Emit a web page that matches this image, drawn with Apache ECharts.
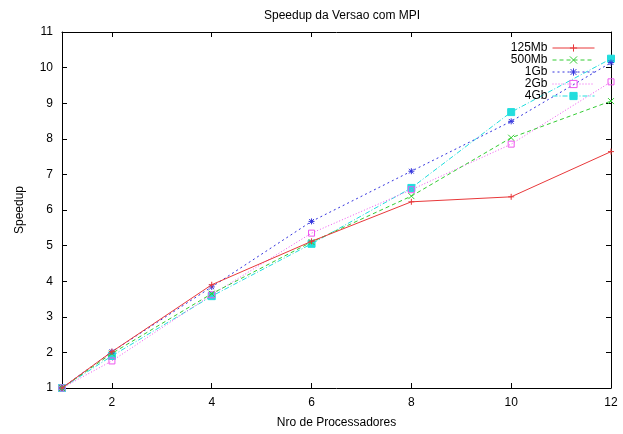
<!DOCTYPE html>
<html>
<head>
<meta charset="utf-8">
<script src="https://cdn.jsdelivr.net/npm/echarts@6/dist/echarts.min.js"></script>
<style>html,body{margin:0;padding:0;background:#fff}#c{width:623px;height:434px}</style>
</head>
<body>
<div id="c"></div>
<script>
var procs = [1, 2, 4, 6, 8, 10, 12];
var xTicks = [2, 4, 6, 8, 10, 12];
var seriesNames = ['125Mb', '500Mb', '1Gb', '2Gb', '4Gb'];
var s125 = [1, 2.02, 3.9, 5.12, 6.23, 6.37, 7.64];
var s500 = [1, 1.97, 3.65, 5.1, 6.39, 8.03, 9.06];
var s1g  = [1, 2.02, 3.84, 5.68, 7.09, 8.49, 10.14];
var s2g  = [1, 1.76, 3.62, 5.35, 6.57, 7.85, 9.6];
var s4g  = [1, 1.9, 3.58, 5.05, 6.62, 8.75, 10.25];

var values = [s125, s500, s1g, s2g, s4g];
var colors = ['#e8383a', '#33cc33', '#3333dd', '#ee55ee', '#22dddd'];
var dashes = ['solid', [4, 3], [2, 3], [1, 2], [5, 2, 1, 2]];
var symbols = [
  'path://M5,0L5,10M0,5L10,5',
  'path://M0,0L10,10M10,0L0,10',
  'path://M5,0L5,10M0,5L10,5M1,1L9,9M9,1L1,9',
  'rect',
  'rect'
];
var FONT = 'Liberation Sans';

var series = values.map(function (v, i) {
  var isFilled = i === 4;
  return {
    name: seriesNames[i],
    type: 'line',
    data: procs.map(function (p, k) { return [p, v[k]]; }),
    symbol: symbols[i],
    symbolSize: isFilled ? 7 : 6,
    showAllSymbol: true,
    lineStyle: { color: colors[i], width: 1, type: dashes[i] },
    itemStyle: {
      color: isFilled ? colors[i] : 'rgba(0,0,0,0)',
      borderColor: colors[i],
      borderWidth: 1
    },
    emphasis: { disabled: true },
    animation: false,
    z: 5 - i
  };
});

var chart = echarts.init(document.getElementById('c'));
chart.setOption({
  backgroundColor: '#fff',
  animation: false,
  textStyle: { fontFamily: FONT },
  title: {
    text: 'Speedup da Versao com MPI',
    left: 337, top: 5, textAlign: 'center',
    textStyle: { fontFamily: FONT, fontSize: 12, fontWeight: 'normal', color: '#000' }
  },
  legend: {
    orient: 'vertical',
    right: 23, top: 37,
    itemWidth: 42, itemHeight: 9, itemGap: 0,
    align: 'right',
    lineStyle: { width: 1 },
    itemStyle: { borderWidth: 1 },
    textStyle: { fontFamily: FONT, fontSize: 12, lineHeight: 12, color: '#000', padding: [0, 0, 0, 0] },
    data: seriesNames
  },
  grid: { left: 62, right: 12, top: 32, bottom: 38 },
  xAxis: [{
    type: 'value', min: 1, max: 12, position: 'bottom',
    name: 'Nro de Processadores', nameLocation: 'middle', nameGap: 29,
    nameTextStyle: { fontFamily: FONT, fontSize: 12, color: '#000' },
    axisLine: { lineStyle: { color: '#000', width: 1 } },
    axisTick: { inside: true, length: 5, customValues: xTicks, lineStyle: { color: '#000' } },
    axisLabel: { customValues: xTicks, margin: 9, fontFamily: FONT, fontSize: 12, color: '#000' },
    splitLine: { show: false }
  }, {
    type: 'value', min: 1, max: 12, position: 'top',
    axisLine: { lineStyle: { color: '#000', width: 1 } },
    axisTick: { inside: true, length: 5, customValues: xTicks, lineStyle: { color: '#000' } },
    axisLabel: { show: false },
    splitLine: { show: false }
  }],
  yAxis: [{
    type: 'value', min: 1, max: 11, interval: 1, position: 'left',
    name: 'Speedup', nameLocation: 'middle', nameGap: 36, nameRotate: 90,
    nameTextStyle: { fontFamily: FONT, fontSize: 12, color: '#000' },
    axisLine: { show: true, lineStyle: { color: '#000', width: 1 } },
    axisTick: { show: true, inside: true, length: 5, lineStyle: { color: '#000' } },
    axisLabel: { margin: 9, fontFamily: FONT, fontSize: 12, color: '#000' },
    splitLine: { show: false }
  }, {
    type: 'value', min: 1, max: 11, interval: 1, position: 'right',
    axisLine: { show: true, lineStyle: { color: '#000', width: 1 } },
    axisTick: { show: true, inside: true, length: 5, lineStyle: { color: '#000' } },
    axisLabel: { show: false },
    splitLine: { show: false }
  }],
  series: series
});
</script>
</body>
</html>
